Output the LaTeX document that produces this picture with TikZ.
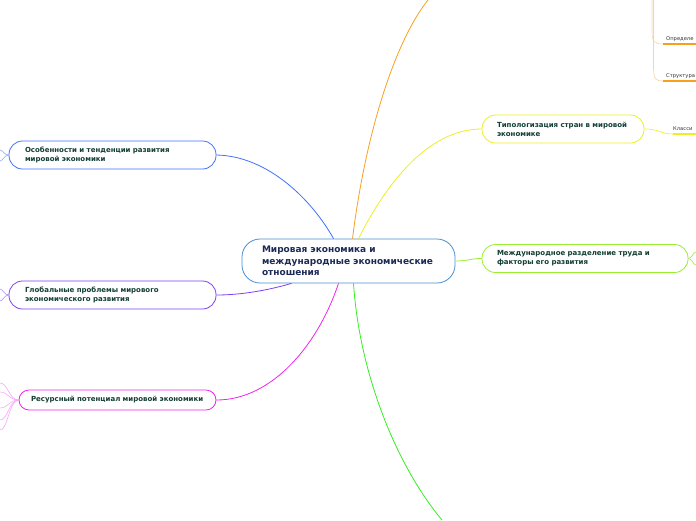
\documentclass[tikz,border=0pt]{standalone}
\usepackage{fontspec}
\setmainfont{DejaVu Sans}
\usetikzlibrary{positioning}
\definecolor{rootblue}{HTML}{4A8FCC}
\definecolor{rootink}{HTML}{1C2A55}
\definecolor{topicink}{HTML}{123E33}
\definecolor{leafink}{HTML}{333333}
\definecolor{osobblue}{HTML}{3F6FFF}
\definecolor{globviolet}{HTML}{7B3FF5}
\definecolor{resmagenta}{HTML}{EE22EE}
\definecolor{typoyellow}{HTML}{EEEE22}
\definecolor{labgreen}{HTML}{99EE33}
\definecolor{bottomgreen}{HTML}{33EE22}
\definecolor{orangeline}{HTML}{F7A020}
\tikzset{
  rootbox/.style={draw=rootblue, rounded corners=18pt, fill=white, line width=0.8pt, text=rootink, font=\fontsize{9}{11.5}\selectfont\bfseries, text width=173pt, inner xsep=20pt, minimum height=44pt, align=left},
  topicbox/.style={rounded corners=13.5pt, fill=white, line width=0.8pt, text=topicink, font=\fontsize{7}{9}\selectfont\bfseries, inner xsep=15pt, minimum height=28pt, align=left},
  leaf/.style={font=\fontsize{5.2}{6.5}\selectfont, text=leafink, inner sep=0pt, anchor=base west},
  branch/.style={line width=0.8pt},
  twig/.style={line width=0.6pt},
  underline/.style={line width=1.4pt}
}
\begin{document}
\begin{tikzpicture}[x=1pt, y=-1pt]
  \useasboundingbox (0,0) rectangle (696,520);
  \node[rootbox] (econ) at (348.5,261) {Мировая экономика и\\ международные экономические\\ отношения};
  \node[topicbox, draw=typoyellow, text width=132pt] (typo) at (563,129) {Типологизация стран в мировой\\ экономике};
  \node[topicbox, draw=osobblue, text width=175pt, inner xsep=16pt] (osob) at (112.5,155) {Особенности и тенденции развития\\ мировой экономики};
  \node[topicbox, draw=labgreen, text width=176pt] (labor) at (585,258.5) {Международное разделение труда и\\ факторы его развития};
  \node[topicbox, draw=globviolet, text width=175pt, inner xsep=16pt] (glob) at (112.5,295) {Глобальные проблемы мирового\\ экономического развития};
  \node[topicbox, draw=resmagenta, text width=173pt, inner xsep=12pt, minimum height=20pt, rounded corners=10pt] (res) at (117.5,400) {Ресурсный потенциал мировой экономики};
  % leaves at the right edge
  \node[leaf] (defin) at (666,40) {Определе};
  \node[leaf] (struct) at (666,77) {Структура};
  \node[leaf] (klass) at (673,130) {Класси};
  \coordinate (topend) at (428,0);
  \coordinate (botend) at (442,520);
  \coordinate (orangetop) at (652,0);
  \coordinate (defline) at (663,44);
  \coordinate (strline) at (663,81);
  \coordinate (klline) at (673,134);
  % main branches
  \draw[branch, orangeline] ([xshift=4pt]econ.north) .. controls (366,130) and (396,40) .. (topend);
  \draw[branch, typoyellow] ([xshift=10pt]econ.north) .. controls (388,180) and (430,129) .. (typo.west);
  \draw[branch, osobblue] ([xshift=-15pt]econ.north) .. controls (312,200) and (268,156) .. (osob.east);
  \draw[branch, labgreen] (econ.east) .. controls (468,261) and (470,258.5) .. (labor.west);
  \draw[branch, globviolet] ([xshift=-57pt]econ.south) .. controls (262,292) and (236,295) .. (glob.east);
  \draw[branch, resmagenta] ([xshift=-10pt]econ.south) .. controls (318,345) and (272,400) .. (res.east);
  \draw[branch, bottomgreen] ([xshift=5pt]econ.south) .. controls (360,380) and (400,470) .. (botend);
  % twigs
  \draw[twig, orangeline!45] (orangetop) -- (652,32) .. controls (652,42) and (655,44) .. (defline);
  \draw[twig, orangeline!45] ([xshift=1.5pt]orangetop) -- (653.5,68) .. controls (653.5,79) and (656,81) .. (strline);
  \draw[underline, orangeline] (defline) -- +(40,0);
  \draw[underline, orangeline] (strline) -- +(40,0);
  \draw[twig, typoyellow] (typo.east) .. controls (660,129) and (660,134) .. (klline);
  \draw[underline, typoyellow] (klline) -- +(30,0);
  \foreach \k/\yy in {a/150, b/161} {
    \coordinate (osobfork\k) at (0,\yy);
    \draw[twig, osobblue!60] (osob.west) .. controls (4,155) and (3,\yy) .. (osobfork\k);
  }
  \foreach \k/\yy in {a/289, b/301} {
    \coordinate (globfork\k) at (0,\yy);
    \draw[twig, globviolet!60] (glob.west) .. controls (4,295) and (3,\yy) .. (globfork\k);
  }
  \foreach \k/\yy in {a/383, b/392, c/408, d/420, e/430} {
    \coordinate (resfan\k) at (0,\yy);
    \draw[twig, resmagenta!40] (res.west) .. controls (9,400) and (8,\yy) .. (resfan\k);
  }
  \foreach \k/\yy in {a/252, b/265} {
    \coordinate (laborfork\k) at (696,\yy);
    \draw[twig, labgreen] (labor.east) .. controls (692,258.5) and (693,\yy) .. (laborfork\k);
  }
\end{tikzpicture}
\end{document}
